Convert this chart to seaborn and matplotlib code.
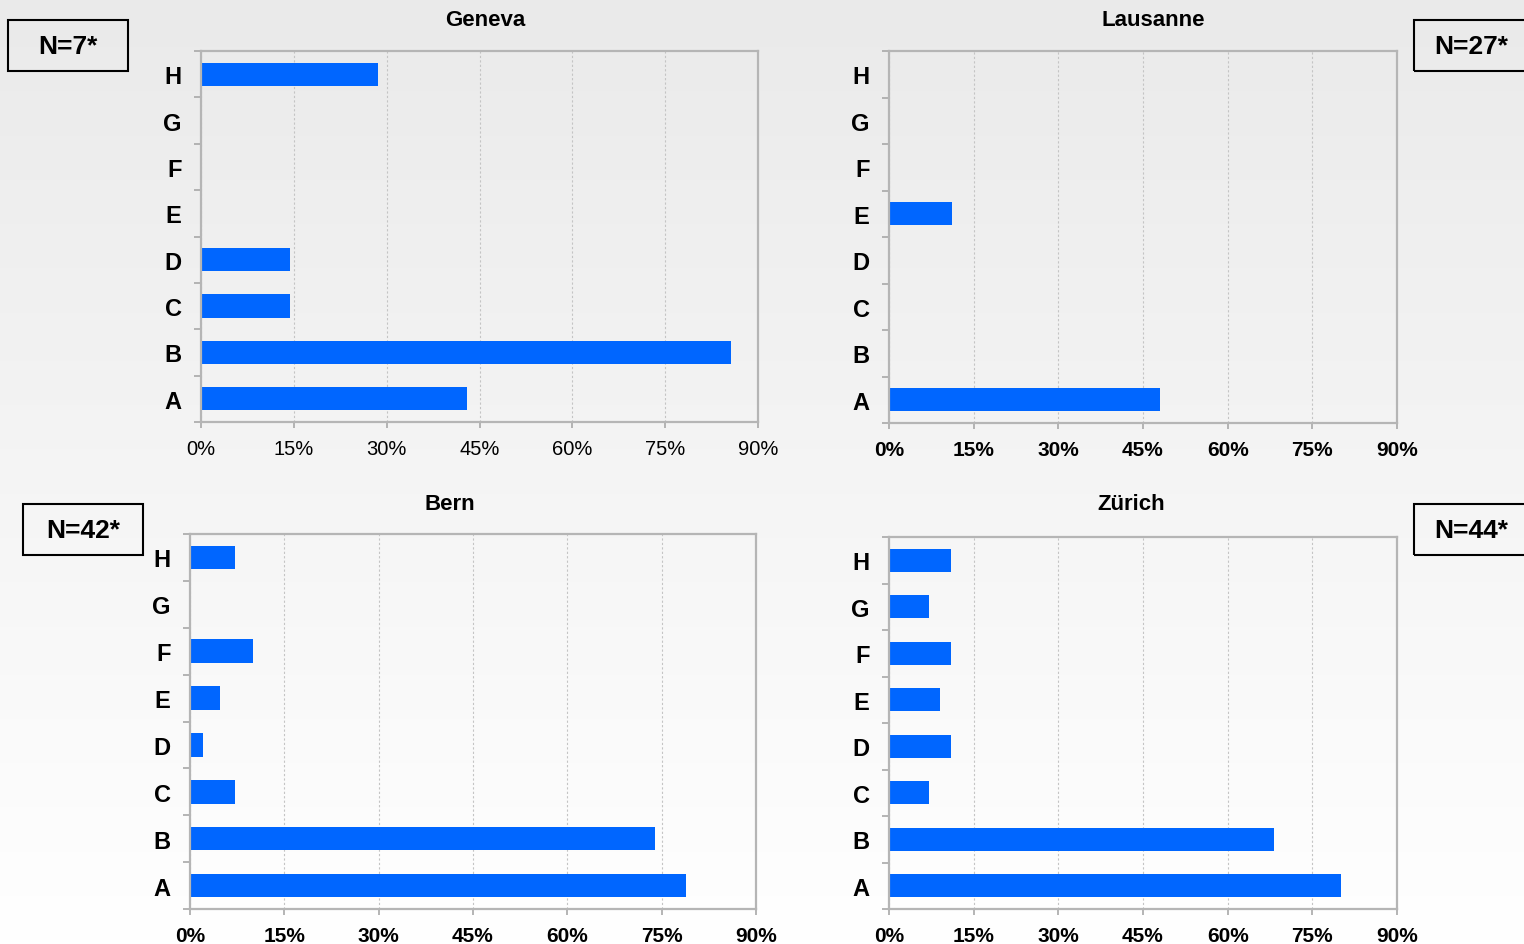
import numpy as np
import pandas as pd
import seaborn as sns
import matplotlib.pyplot as plt
from matplotlib.patches import Rectangle
from matplotlib.colors import LinearSegmentedColormap
from matplotlib.ticker import PercentFormatter

# shares of respondents (%) per answer category
categories = ['A', 'B', 'C', 'D', 'E', 'F', 'G', 'H']
geneva = [42.9, 85.7, 14.3, 14.3, 0, 0, 0, 28.6]
lausanne = [48.1, 0, 0, 0, 11.1, 0, 0, 0]
bern = [78.8, 74.0, 7.1, 2.1, 4.8, 10.0, 0, 7.1]
zurich = [80.0, 68.2, 7.1, 11.0, 9.1, 11.0, 7.1, 11.0]
xticks = [0, 15, 30, 45, 60, 75, 90]

sns.set_style('white')
plt.rcParams['font.family'] = ['Liberation Sans', 'DejaVu Sans']
plt.rcParams['text.color'] = 'black'
plt.rcParams['xtick.labelcolor'] = 'black'
plt.rcParams['ytick.labelcolor'] = 'black'

W, H = 1524, 945
fig = plt.figure(figsize=(W / 100, H / 100), dpi=100)


def rect_px(x0, y0, x1, y1):
    return [x0 / W, 1 - y1 / H, (x1 - x0) / W, (y1 - y0) / H]


# background: light gray at top fading to white
bg = fig.add_axes([0, 0, 1, 1], zorder=-5)
grad = LinearSegmentedColormap.from_list('bg', ['#eaeaea', '#ffffff'])
bg.imshow(np.linspace(0, 1, 256)[:, None], aspect='auto', cmap=grad,
          extent=[0, 1, 0, 1])
bg.set_axis_off()


def panel(rect, titel, values, title_xy, nlabel, nbox, bold_ticks=True):
    ax = fig.add_axes(rect_px(*rect))
    ax.set_facecolor('none')
    df = pd.DataFrame({'cat': categories, 'val': values})
    sns.barplot(data=df, x='val', y='cat', order=categories[::-1],
                color='#0066ff', saturation=1, width=0.5, linewidth=0,
                ax=ax)
    ax.set_xlim(0, 90)
    ax.set_ylim(7.5, -0.5)
    ax.set_xlabel('')
    ax.set_ylabel('')
    ax.set_xticks(xticks)
    ax.xaxis.set_major_formatter(PercentFormatter(decimals=0))
    ax.set_yticks(np.arange(-0.5, 8, 1), minor=True)
    ax.xaxis.grid(True, linestyle=(0, (2, 2)), color='#c4c4c4', lw=0.8)
    ax.set_axisbelow(True)
    for s in ax.spines.values():
        s.set_visible(True)
        s.set_color('#b5b5b5')
        s.set_linewidth(1.6)
    ax.tick_params(axis='y', which='major', length=0, pad=14,
                   labelsize=17)
    ax.tick_params(axis='y', which='minor', left=True, length=5,
                   width=1.2, color='#a8a8a8')
    ax.tick_params(axis='x', which='major', bottom=True, length=4,
                   width=1.2, color='#a8a8a8', pad=8,
                   labelsize=15 if bold_ticks else 14.5)
    for lab in ax.get_yticklabels():
        lab.set_fontweight('bold')
    if bold_ticks:
        for lab in ax.get_xticklabels():
            lab.set_fontweight('bold')

    fig.text(title_xy[0] / W, 1 - title_xy[1] / H, titel, ha='center',
             va='center', fontsize=16, fontweight='bold')
    x0, y0, x1, y1 = nbox
    fig.add_artist(Rectangle((x0 / W, 1 - y1 / H), (x1 - x0) / W,
                             (y1 - y0) / H, transform=fig.transFigure,
                             fill=False, edgecolor='black', lw=1.5))
    fig.text(min((x0 + x1) / 2, 1471) / W, 1 - (y0 + y1) / 2 / H, nlabel,
             ha='center', va='center', fontsize=19, fontweight='bold')
    return ax


panel((201, 52, 758, 423), 'Geneva', geneva, (485, 21), 'N=7*',
      (8, 21, 128, 72), bold_ticks=False)
panel((889, 52, 1397, 424), 'Lausanne', lausanne, (1153, 21), 'N=27*',
      (1414, 21, 1530, 72))
panel((190, 535, 756, 910), 'Bern', bern, (450, 505), 'N=42*',
      (23, 505, 143, 556))
panel((889, 538, 1397, 910), 'Zürich', zurich, (1131, 505), 'N=44*',
      (1414, 505, 1530, 556))

fig.savefig('out.png', dpi=100)
